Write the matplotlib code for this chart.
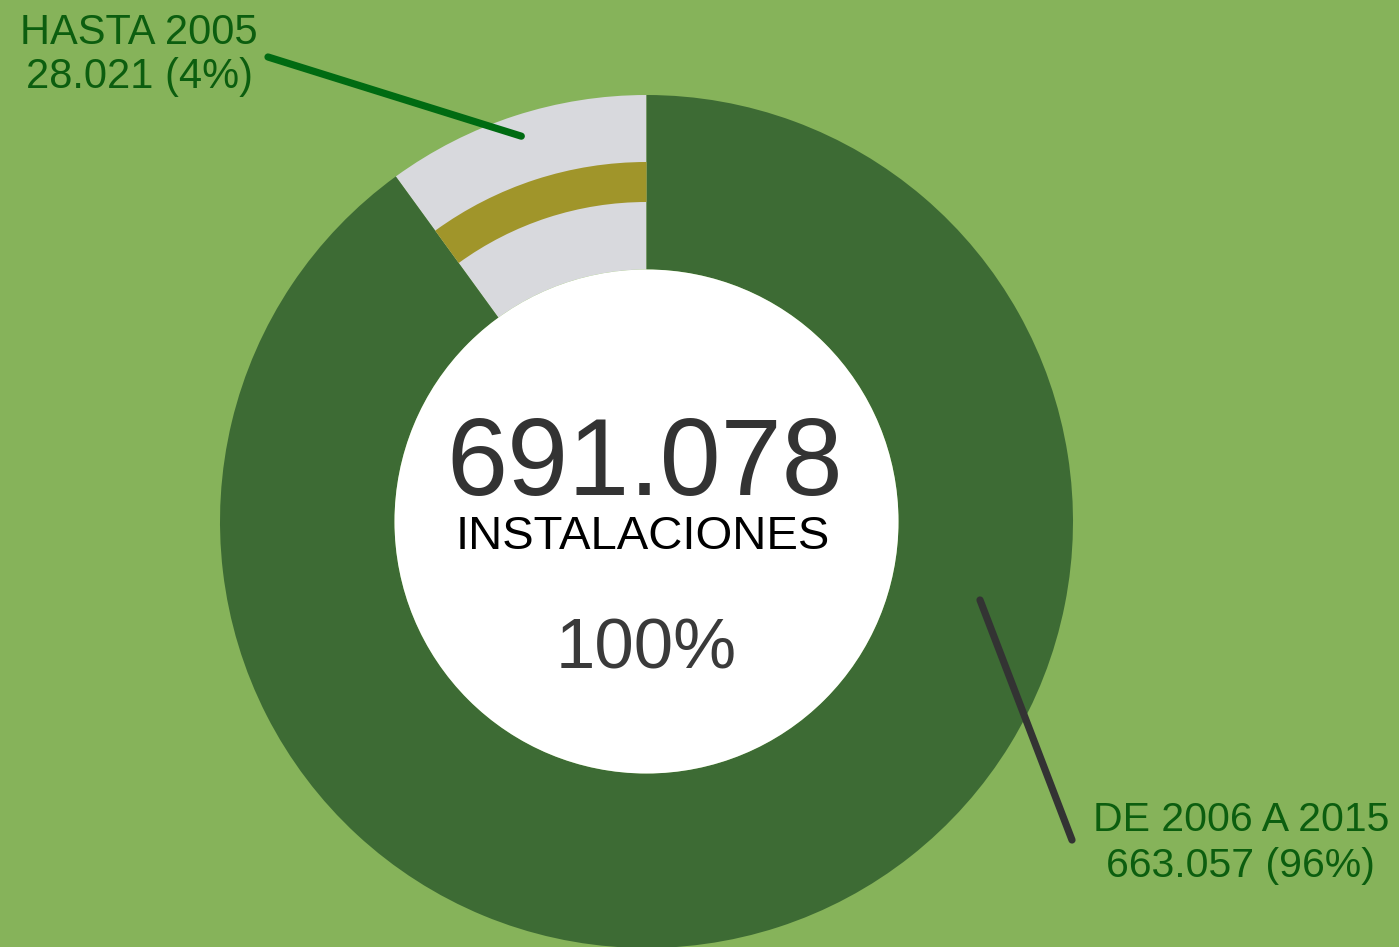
import numpy as np
import matplotlib
matplotlib.use("Agg")
import matplotlib.pyplot as plt
from matplotlib.patches import Circle

plt.rcParams['font.family'] = ['Liberation Sans', 'DejaVu Sans']

# data
periods = ['HASTA 2005', 'DE 2006 A 2015']
installs = ['28.021', '663.057']
percents = ['4%', '96%']
wedge_share = [10, 90]          # angular share as drawn in the picture
total_label = '691.078'
total_pct = '100%'

bg = '#86b35a'
dark_green = '#3d6b34'
grey = '#d8d9dd'
gold = '#a0952a'
text_green = '#0c5e0f'

fig = plt.figure(figsize=(13.99, 9.47), dpi=100, facecolor=bg)
ax = fig.add_axes([0, 0, 1, 1])
ax.set_facecolor(bg)

cx, cy = 646.5, 425.5
R = 426.5
r_in = 252

# main ring
ax.pie(wedge_share, colors=[grey, dark_green], startangle=90, radius=R,
       center=(cx, cy), wedgeprops=dict(width=R - r_in, linewidth=0))
# gold band inside the older wedge
ax.pie(wedge_share, colors=[gold, 'none'], startangle=90, radius=359.5,
       center=(cx, cy), wedgeprops=dict(width=40, linewidth=0))
ax.add_patch(Circle((cx, cy), r_in, facecolor='white', edgecolor='none', zorder=3))

ax.set_xlim(0, 1399)
ax.set_ylim(0, 947)
ax.set_aspect('equal')
ax.axis('off')

# leader lines
mid = np.deg2rad(90 + wedge_share[0] / 100 * 360 / 2)
ax.plot([268, cx + 0.95 * R * np.cos(mid)], [890, cy + 0.95 * R * np.sin(mid)],
        color='#006b12', lw=5.2, solid_capstyle='round', zorder=4)
ax.plot([980, 1072], [347, 107], color='#333333', lw=5.2,
        solid_capstyle='round', zorder=4)

# labels
ax.text(139, 903, periods[0], ha='center', va='baseline', fontsize=30, color=text_green)
ax.text(139, 859, f'{installs[0]} ({percents[0]})', ha='center', va='baseline',
        fontsize=30, color=text_green)
ax.text(1241, 116, periods[1], ha='center', va='baseline', fontsize=29.5, color=text_green)
ax.text(1240, 70, f'{installs[1]} ({percents[1]})', ha='center', va='baseline',
        fontsize=29.5, color=text_green)

# centre text
ax.text(645, 452, total_label, ha='center', va='baseline', fontsize=79,
        color='#333333', zorder=5)
ax.text(642.5, 398, 'INSTALACIONES', ha='center', va='baseline', fontsize=34,
        color='black', zorder=5)
ax.text(646.5, 279, total_pct, ha='center', va='baseline', fontsize=51,
        color='#3a3a3a', zorder=5)

fig.savefig('out.png', dpi=100, facecolor=bg)
